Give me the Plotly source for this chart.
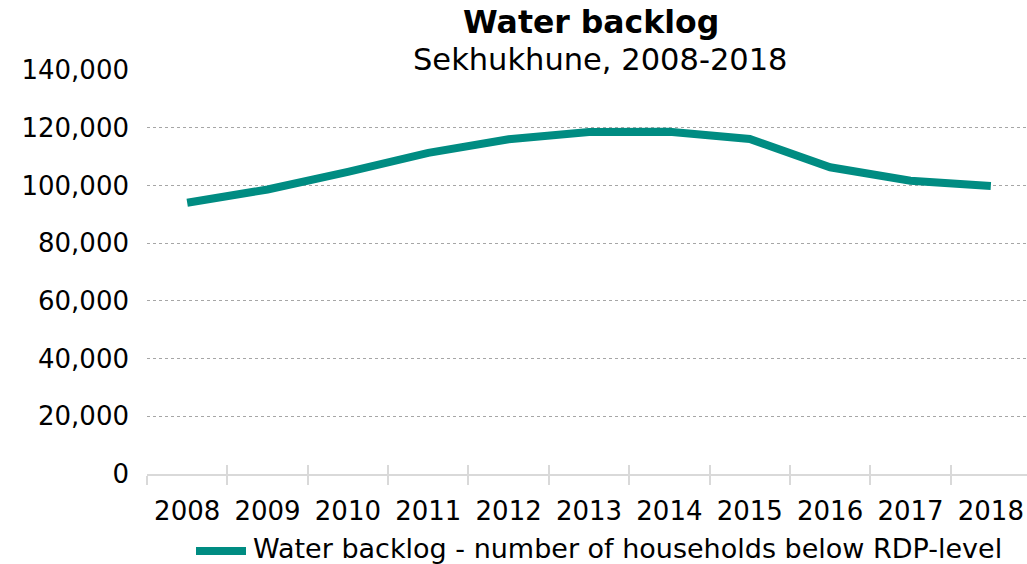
import plotly.graph_objects as go

# Water backlog series, Sekhukhune district
years = ["2008", "2009", "2010", "2011", "2012", "2013",
         "2014", "2015", "2016", "2017", "2018"]
households_below_rdp = [94000, 98600, 104700, 111300, 116000, 118500,
                        118600, 116100, 106300, 101600, 99800]
series_name = "Water backlog - number of households below RDP-level"
y_ticks = [0, 20000, 40000, 60000, 80000, 100000, 120000, 140000]

FONT = "DejaVu Sans"
TEAL = "#008C82"

# plot-area geometry in pixels
W, H = 1027, 564
L, R, T, B = 147, 0, 70, 90
PW, PH = W - L - R, H - T - B


def px_x(px):
    return (px - L) / PW


def px_y(py):
    return (H - B - py) / PH


fig = go.Figure()
fig.add_trace(go.Scatter(
    x=years, y=households_below_rdp, mode="lines", name=series_name,
    line=dict(color=TEAL, width=8), showlegend=False,
    xaxis="x", yaxis="y",
))
# invisible companion trace so the second axis (upward tick halves) renders
fig.add_trace(go.Scatter(
    x=years, y=households_below_rdp, mode="lines", showlegend=False,
    line=dict(color="rgba(0,0,0,0)", width=0), hoverinfo="skip",
    xaxis="x2", yaxis="y",
))

fig.update_layout(
    width=W, height=H,
    margin=dict(l=L, r=R, t=T, b=B, autoexpand=False),
    paper_bgcolor="white", plot_bgcolor="white",
    font=dict(family=FONT, size=26, color="#000000"),
    showlegend=False,
    xaxis=dict(
        type="category", range=[-0.5, 10.45], automargin=False,
        showline=True, linecolor="#d9d9d9", linewidth=1.5,
        showgrid=False, zeroline=False,
        ticks="outside", tickson="boundaries", ticklen=9, tickcolor="#d9d9d9", tickwidth=1.5,
        tickfont=dict(family=FONT, size=26),
        ticklabelstandoff=13,
    ),
    xaxis2=dict(
        type="category", range=[-0.5, 10.45], overlaying="x", side="bottom",
        showline=False, showgrid=False, zeroline=False, automargin=False,
        ticks="inside", tickson="boundaries", ticklen=9, tickcolor="#d9d9d9", tickwidth=1.5,
        showticklabels=False, matches="x",
    ),
    yaxis=dict(
        range=[0, 140000], tickvals=y_ticks, tickformat=",d", automargin=False,
        showgrid=True, gridcolor="#a6a6a6", griddash="dot", gridwidth=1,
        zeroline=False, showline=False, ticks="",
        tickfont=dict(family=FONT, size=26),
        ticklabelstandoff=17,
    ),
    annotations=[
        dict(text="<b>Water backlog</b>", xref="paper", yref="paper",
             x=px_x(591), y=px_y(22), xanchor="center", yanchor="middle",
             showarrow=False, font=dict(family=FONT, size=31.5, color="#000000")),
        dict(text="Sekhukhune, 2008-2018", xref="paper", yref="paper",
             x=px_x(600), y=px_y(60), xanchor="center", yanchor="middle",
             showarrow=False, font=dict(family=FONT, size=30.5, color="#000000")),
        # legend label
        dict(text=series_name, xref="paper", yref="paper",
             x=px_x(251), y=px_y(548), xanchor="left", yanchor="middle",
             showarrow=False, font=dict(family=FONT, size=27, color="#000000")),
    ],
    shapes=[
        # legend key
        dict(type="line", xref="paper", yref="paper",
             x0=px_x(196), x1=px_x(246), y0=px_y(551), y1=px_y(551),
             line=dict(color=TEAL, width=8)),
    ],
)

fig.write_html("out.html")
